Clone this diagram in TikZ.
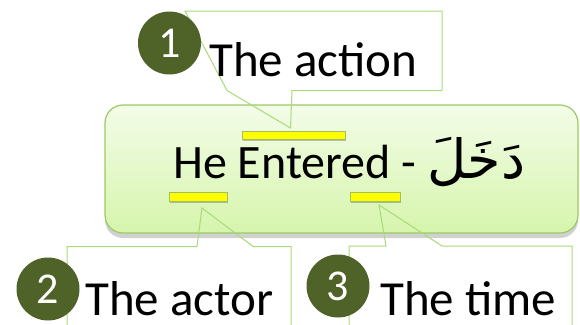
\documentclass[tikz,border=0pt]{standalone}
\usepackage{fontspec}
\setmainfont{Carlito}
\newfontfamily\arabicfont[Script=Arabic]{DejaVu Sans}
\TeXXeTstate=1
\usetikzlibrary{shadows}
\definecolor{numgreen}{HTML}{4F6228}
\definecolor{calloutline}{HTML}{A8DA78}
\definecolor{boxline}{HTML}{9CC964}
\definecolor{boxtop}{HTML}{F3FCE8}
\definecolor{boxbot}{HTML}{D6F5AC}
\definecolor{barline}{HTML}{A3BE5E}
\definecolor{barfill}{HTML}{FFFF00}
\tikzset{
  mainbox/.style={draw=boxline, line width=1.2pt, rounded corners=18pt, top color=boxtop, bottom color=boxbot,
    drop shadow={shadow xshift=0pt, shadow yshift=-5pt, opacity=0.3, fill=black!60}, inner sep=0pt},
  hlbar/.style={draw=barline, line width=1pt, fill=barfill, inner sep=0pt,
    drop shadow={shadow xshift=1pt, shadow yshift=-2pt, opacity=0.35, fill=black!70}},
  callout/.style={draw=calloutline, line width=1pt, line join=miter},
  numdot/.style={circle, fill=numgreen, minimum size=63pt, inner sep=0pt, text=white, font=\fontsize{44}{46}\selectfont},
  lbl/.style={anchor=base west, inner sep=0pt, font=\fontsize{49}{52}\selectfont},
}
\begin{document}
\begin{tikzpicture}[x=1pt,y=-1pt]
\useasboundingbox (0,0) rectangle (580,324);
% main box
\node[mainbox, minimum width=473pt, minimum height=128pt] (main) at (341.5,169) {};
% highlight bars
\node[hlbar, minimum width=103pt, minimum height=8pt] (bar1) at (293.5,135) {};
\node[hlbar, minimum width=58pt, minimum height=9pt] (bar2) at (198,196.5) {};
\node[hlbar, minimum width=50pt, minimum height=9pt] (bar3) at (375,196.5) {};
% main text
\node[anchor=base west, inner sep=0pt, font=\fontsize{48}{52}\selectfont] (word) at (173,178)
  {He Entered - {\arabicfont\fontsize{54}{56}\selectfont\beginR دَخَلَ\endR}};
% callout tips
\coordinate (tip1) at (290.5,128);
\coordinate (tip2) at (202,208);
\coordinate (tip3) at (379,205);
% callouts
\draw[callout] (185,11) -- (442,11) -- (442,90.5) -- (292,90.5) -- (tip1) -- (227,90.5) -- cycle;
\draw[callout] (67,330) -- (67,246.5) -- (197,246.5) -- (tip2) -- (253,246.5) -- (291,246.5) -- (291,330);
\draw[callout] (349,330) -- (349,246) -- (386,246) -- (tip3) -- (442,246) -- (572,246) -- (572,330);
% labels
\node[lbl] (lab1) at (209,76) {The action};
\node[lbl] (lab2) at (85,315) {The actor};
\node[lbl] (lab3) at (380,315) {The time};
% number dots
\node[numdot] (n1) at (169.5,43) {1};
\node[numdot] (n2) at (48,289) {2};
\node[numdot] (n3) at (338,286) {3};
\end{tikzpicture}
\end{document}
